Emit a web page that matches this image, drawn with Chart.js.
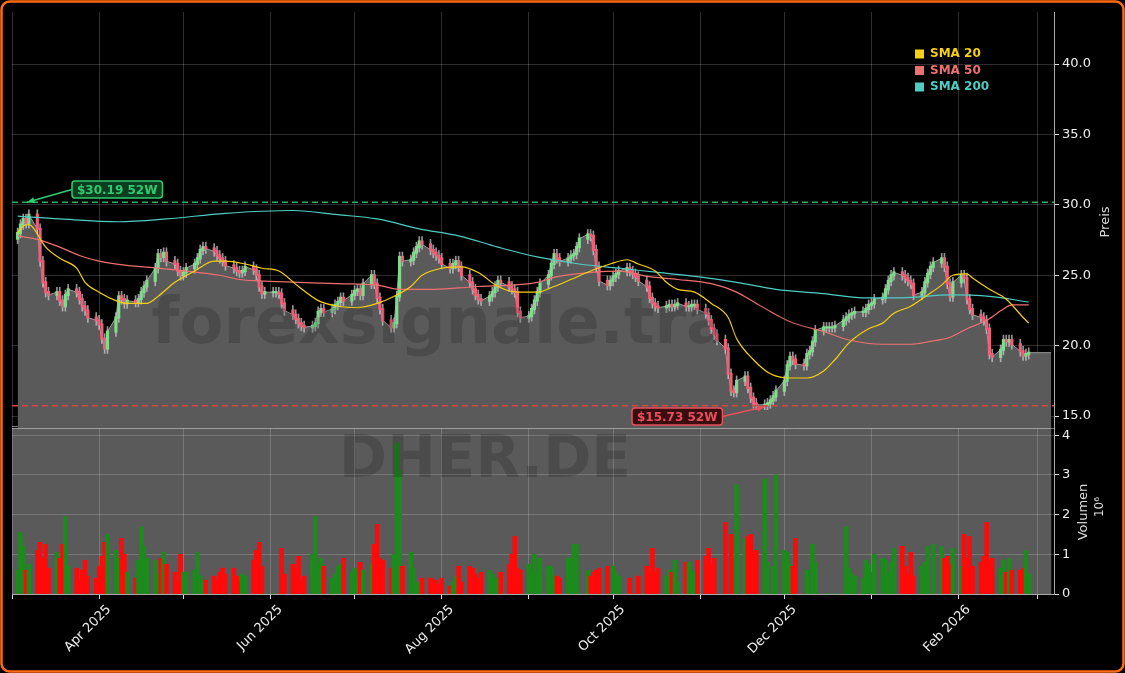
<!DOCTYPE html>
<html><head><meta charset="utf-8">
<script src="https://cdn.jsdelivr.net/npm/chart.js@4/dist/chart.umd.min.js"></script>
<style>html,body{margin:0;padding:0;background:#000;}canvas{display:block;}</style>
</head><body>
<canvas id="c" width="1125" height="673"></canvas>
<script>
// ---------- DATA ----------
const startDate = '2025-03-03';
const closes = [
28.0,28.6,29.0,28.7,29.3,28.3,26.0,24.5,23.8,23.6,
23.8,23.2,22.8,23.6,24.0,23.8,23.3,22.8,22.5,22.0,
21.8,21.5,20.5,19.8,21.0,22.0,23.5,23.3,23.0,23.2,
23.1,23.3,23.8,24.2,24.6,25.5,26.5,26.3,26.6,26.0,
25.8,25.3,25.0,25.2,25.5,25.8,26.2,26.8,27.0,26.9,
26.7,26.4,26.2,26.0,25.7,25.5,25.3,25.2,25.3,25.6,
25.4,25.0,24.2,23.7,23.8,23.8,23.8,23.7,23.0,22.5,
22.2,21.9,21.6,21.4,21.3,21.4,21.6,22.4,22.6,22.4,
22.6,22.9,23.1,23.4,23.2,23.6,23.9,24.0,23.6,24.4,
25.0,24.4,23.4,22.6,21.8,21.3,21.6,23.5,26.3,26.0,
26.1,26.6,27.0,27.4,27.2,26.8,26.6,26.4,26.2,25.8,
25.5,25.8,26.0,25.6,25.0,24.5,24.0,23.6,23.3,23.2,
23.5,23.8,24.2,24.6,24.5,24.2,24.0,23.8,22.4,22.0,
22.1,22.6,23.2,23.8,24.4,25.0,25.8,26.5,26.2,26.0,
26.2,26.4,26.5,27.0,27.6,27.9,27.8,26.8,25.6,24.6,
24.3,24.6,24.9,25.1,25.3,25.5,25.3,25.1,24.9,24.6,
24.2,23.4,23.0,22.8,22.7,22.8,22.9,22.8,22.9,23.0,
22.8,22.8,22.9,22.9,22.6,22.3,21.8,21.2,20.8,20.4,
19.8,18.0,16.8,16.7,17.5,17.8,17.0,16.3,15.9,15.8,
15.8,15.9,16.1,16.4,16.8,17.5,18.6,19.2,19.0,18.7,
18.6,19.4,19.6,20.3,21.1,21.3,21.3,21.3,21.3,21.4,
21.8,22.0,22.2,22.3,22.4,22.4,22.6,22.9,23.0,23.3,
23.4,24.0,24.6,25.0,25.2,25.0,24.8,24.6,24.4,23.6,
23.8,24.5,25.1,25.6,25.9,26.2,25.6,24.4,23.5,24.5,
25.0,24.8,23.3,22.6,22.2,22.0,21.8,21.2,19.4,19.2,
19.7,20.4,20.3,20.4,20.1,19.6,19.3,19.4,19.5];
const firstOpen = 27.6;
const volumes = [ // millions
0.6,1.55,1.2,0.6,0.75,1.1,1.3,0.9,1.25,0.65,
1.05,0.9,1.25,1.95,0.7,0.65,0.35,0.6,0.85,0.45,
0.4,0.7,0.95,1.3,1.5,1.1,0.9,1.4,1.0,0.55,
0.4,0.85,1.7,1.2,0.9,0.85,0.5,0.9,1.05,0.75,
0.55,0.3,1.0,0.55,0.55,0.6,1.05,0.45,0.35,0.35,
0.45,0.35,0.55,0.65,0.5,0.65,0.45,0.3,0.5,0.45,
0.85,1.1,1.3,0.7,0,0,0,0,1.15,0.5,
0.75,0.65,0.95,0.35,0.45,1.0,1.95,0.75,0.9,0.7,
0.4,0.5,0.7,0.75,0.9,0.55,0.65,0.4,0.8,0.6,
0.75,1.25,1.75,0.9,0.85,0.65,1.0,3.8,3.1,0.7,
1.05,0.65,0.3,0.3,0.4,0.4,0.35,0.35,0.25,0.4,
0.2,0.3,0.45,0.7,0.3,0.7,0.65,0.5,0.4,0.55,
0.6,0.5,0.4,0.4,0.55,0.75,1.0,1.45,0.65,0.6,
0.75,0.55,1.0,0.55,0.9,0.7,0.7,0.45,
0.45,0.4,0.9,0.9,1.25,1.25,0,0.6,0.45,0.55,0.6,0.65,0.7,0,0.7,0.55,0.45,0,0.4,0,0,
0.45,0.7,0.55,1.15,0.55,0.65,0.45,0.6,0.55,0.85,0.3,0.8,0.8,0.6,0.55,0.85,0.95,1.15,0.75,0.9,
0,1.8,0,1.5,0,2.75,1.4,1.45,1.5,1.0,1.1,2.9,0.8,0,0.7,3.0,1.1,1.05,0.75,0.7,1.4,0,0.6,0,1.25,0.8,
0,0,0,0,0,0,
1.7,0.65,0.5,0.45,0.4,0.85,0.75,0.55,1.0,0.9,0.85,0.55,0.8,1.15,1.2,0.7,0.5,1.05,
0.45,0.7,0.8,1.2,0,1.25,1.2,0.9,0.95,0.75,1.15,0.7,1.5,0.9,1.45,0.7,0.8,0.95,1.8,0.85,0.9,0.65,
0.85,0.55,0.9,0.6,0.6,0.65,1.1,0.5];
// SMA readings: [trading-day index, value]
const sma20 = [[0,28.0],[2,28.5],[4,28.6],[8,27.0],[11,26.2],[15,25.5],[18,24.5],[21,23.8],[25,23.2],[29,23.0],[34,23.0],[36,23.5],[40,24.5],[45,25.3],[50,26.0],[54,26.0],[59,25.8],[63,25.5],[67,25.3],[72,24.2],[77,23.2],[82,22.8],[87,22.7],[92,23.0],[96,23.5],[100,24.2],[104,25.0],[109,25.5],[114,25.6],[118,25.2],[123,24.2],[128,23.8],[133,23.8],[137,24.2],[141,24.7],[146,25.3],[151,25.8],[155,26.1],[159,25.8],[163,25.3],[165,24.5],[169,24.0],[173,23.8],[177,23.0],[181,22.0],[184,20.5],[188,19.0],[192,18.0],[197,17.7],[201,17.7],[205,18.2],[209,19.0],[212,20.2],[217,21.2],[220,21.6],[224,22.3],[228,22.8],[232,23.6],[235,24.3],[239,25.0],[242,25.1],[244,24.8],[248,24.0],[252,23.3],[256,22.0],[258,21.6]];
const sma50 = [[0,27.8],[6,27.5],[11,27.0],[16,26.4],[21,26.0],[29,25.7],[36,25.5],[44,25.3],[52,25.0],[57,24.7],[62,24.6],[72,24.5],[82,24.4],[92,24.3],[98,24.0],[105,24.0],[113,24.1],[118,24.2],[126,24.3],[133,24.5],[138,24.9],[146,25.2],[154,25.3],[161,24.9],[169,24.7],[177,24.4],[184,23.8],[189,23.0],[197,21.7],[205,21.0],[212,20.4],[220,20.1],[228,20.1],[233,20.3],[238,20.6],[242,21.2],[247,21.8],[251,22.6],[254,22.9],[258,22.9]];
const sma200 = [[0,29.2],[11,29.0],[26,28.8],[39,29.0],[54,29.4],[70,29.6],[82,29.3],[92,29.0],[103,28.3],[113,27.8],[123,27.0],[133,26.3],[144,25.8],[154,25.5],[164,25.2],[174,24.9],[184,24.5],[194,24.0],[205,23.7],[215,23.4],[225,23.4],[238,23.6],[248,23.5],[258,23.1]];
const high52 = 30.19, low52 = 15.73;
const high52Idx = 3, low52Idx = 190;
const areaEndDate = '2026-03-06';
const priceTicks = [15,20,25,30,35,40];
const volTicks = [0,1,2,3,4];
const monthLabels = ['Mar 2025','Apr 2025','May 2025','Jun 2025','Jul 2025','Aug 2025','Sep 2025','Oct 2025','Nov 2025','Dec 2025','Jan 2026','Feb 2026','Mar 2026'];
const shownLabels = ['Apr 2025','Jun 2025','Aug 2025','Oct 2025','Dec 2025','Feb 2026'];

// ---------- derived ----------
const base = Date.UTC(2025,2,1);
const dayOf = s => (Date.parse(s+'T00:00:00Z')-base)/864e5;
const days = [];
{ let d = new Date(startDate+'T00:00:00Z');
  while (days.length < closes.length) { const w=d.getUTCDay(); if(w!==0&&w!==6) days.push((d-base)/864e5); d=new Date(d.getTime()+864e5);} }
const opens = closes.map((c,i)=> i===0?firstOpen:closes[i-1]);
const up = closes.map((c,i)=> c>=opens[i]);
const monthDays = monthLabels.map((l,i)=> (Date.UTC(2025,2+i,1)-base)/864e5);

const bodies = closes.map((c,i)=>({x:days[i], y:[Math.min(opens[i],c)-0.05, Math.max(opens[i],c)+0.05]}));
const wicks = closes.map((c,i)=>({x:days[i], y:[Math.min(opens[i],c)-0.35, Math.max(opens[i],c)+0.35]}));
const areaPts = closes.map((c,i)=>({x:days[i], y:c})).concat([{x:dayOf(areaEndDate), y:closes[closes.length-1]}]);
const smaPts = a => a.map(([i,v])=>({x:days[i], y:v}));

const bgPlugin = {
  id:'bg',
  beforeDraw(ch){
    const {ctx} = ch; ctx.save(); ctx.fillStyle='#000'; ctx.fillRect(0,0,ch.width,ch.height);
    const x=ch.scales.x, yv=ch.scales.yv;
    const x1=x.getPixelForValue(dayOf(areaEndDate));
    ctx.fillStyle='rgb(90,90,90)'; ctx.fillRect(ch.chartArea.left, yv.top, x1-ch.chartArea.left, yv.bottom-yv.top);
    ctx.restore();
  },
  beforeDatasetsDraw(ch){
    const {ctx}=ch; const y=ch.scales.y, x=ch.scales.x;
    ctx.save();
    ctx.strokeStyle='rgba(190,190,190,0.7)'; ctx.lineWidth=1;
    ctx.beginPath(); ctx.moveTo(ch.chartArea.left,y.bottom-1.5); ctx.lineTo(x.getPixelForValue(dayOf(areaEndDate)),y.bottom-1.5); ctx.stroke();
    ctx.restore();
  },
  afterDatasetsDraw(ch){
    const {ctx}=ch; const x=ch.scales.x, y=ch.scales.y, yv=ch.scales.yv; const ca=ch.chartArea;
    ctx.save();
    ctx.setLineDash([6,4]); ctx.lineWidth=1.5;
    ctx.strokeStyle='#27ae60'; ctx.beginPath(); ctx.moveTo(ca.left,y.getPixelForValue(high52)); ctx.lineTo(ca.right,y.getPixelForValue(high52)); ctx.stroke();
    ctx.strokeStyle='#d9453f'; ctx.beginPath(); ctx.moveTo(ca.left,y.getPixelForValue(low52)); ctx.lineTo(ca.right,y.getPixelForValue(low52)); ctx.stroke();
    ctx.setLineDash([]);
    ctx.fillStyle='rgba(0,0,0,0.16)'; ctx.textAlign='center'; ctx.textBaseline='middle';
    ctx.font='bold 64px "DejaVu Sans"'; ctx.fillText('forexsignale.trade',485,326);
    ctx.font='bold 58px "DejaVu Sans"'; ctx.fillText('DHER.DE',485,462);
    const label=(txt,bx,by,col,bg,tx,ty)=>{
      ctx.font='bold 12px "DejaVu Sans"'; const w=ctx.measureText(txt).width+10, h=17;
      const ax = tx>bx? bx+w : bx, ay=by+h/2;
      ctx.strokeStyle=col; ctx.lineWidth=1.5; ctx.beginPath(); ctx.moveTo(ax,ay); ctx.lineTo(tx,ty); ctx.stroke();
      const ang=Math.atan2(ty-ay,tx-ax);
      ctx.fillStyle=col; ctx.beginPath(); ctx.moveTo(tx,ty); ctx.lineTo(tx-8*Math.cos(ang-0.4),ty-8*Math.sin(ang-0.4)); ctx.lineTo(tx-8*Math.cos(ang+0.4),ty-8*Math.sin(ang+0.4)); ctx.closePath(); ctx.fill();
      ctx.fillStyle=bg; ctx.beginPath(); ctx.roundRect(bx,by,w,h,3); ctx.fill(); ctx.stroke();
      ctx.fillStyle=col; ctx.textAlign='left'; ctx.textBaseline='middle'; ctx.fillText(txt,bx+5,by+h/2+1);
    };
    label('$30.19 52W',72,181,'#2ecc71','#0d3d1f',x.getPixelForValue(days[high52Idx])+1,y.getPixelForValue(high52));
    label('$15.73 52W',632,408,'#e8505b','#3a0d10',x.getPixelForValue(days[low52Idx]),y.getPixelForValue(low52)+1);
    const items=[['SMA 20','#f5d10f'],['SMA 50','#f07070'],['SMA 200','#4ecdc4']];
    items.forEach(([t,c],i)=>{ const yy=54+i*16.5; ctx.fillStyle=c; ctx.fillRect(915,yy-4.5,9,9);
      ctx.font='bold 12px "DejaVu Sans"'; ctx.textAlign='left'; ctx.textBaseline='middle'; ctx.fillText(t,930,yy); });
    ctx.fillStyle='#ddd'; ctx.font='13px "DejaVu Sans"'; ctx.textAlign='center';
    const rot=(t,px,py)=>{ctx.save(); ctx.translate(px,py); ctx.rotate(-Math.PI/2); ctx.fillText(t,0,0); ctx.restore();};
    rot('Preis',1106,222); rot('Volumen',1084,512); ctx.font='12px "DejaVu Sans"'; rot('10⁶',1100,507);
    ctx.strokeStyle='rgba(200,200,200,0.6)'; ctx.lineWidth=1; ctx.beginPath(); ctx.moveTo(ca.left,yv.top+0.5); ctx.lineTo(ca.right,yv.top+0.5); ctx.stroke();
    ctx.strokeStyle='#ff6a13'; ctx.lineWidth=2.5; ctx.beginPath(); ctx.roundRect(1.5,1.5,ch.width-3,ch.height-3,8); ctx.stroke();
    ctx.restore();
  }
};

const gridCol='rgba(255,255,255,0.18)';
new Chart(document.getElementById('c'),{
  type:'bar',
  data:{datasets:[
    {type:'line',label:'SMA 20',data:smaPts(sma20),yAxisID:'y',borderColor:'#f5d10f',borderWidth:1.2,pointRadius:0,cubicInterpolationMode:'monotone',order:1},
    {type:'line',label:'SMA 50',data:smaPts(sma50),yAxisID:'y',borderColor:'#f07070',borderWidth:1.2,pointRadius:0,cubicInterpolationMode:'monotone',order:1},
    {type:'line',label:'SMA 200',data:smaPts(sma200),yAxisID:'y',borderColor:'#4ecdc4',borderWidth:1.2,pointRadius:0,cubicInterpolationMode:'monotone',order:1},
    {label:'bodies',data:bodies,yAxisID:'y',backgroundColor:up.map(u=>u?'#7fdc8c':'#ef5f78'),barThickness:2.5,grouped:false,order:2},
    {label:'wicks',data:wicks,yAxisID:'y',backgroundColor:'rgba(200,200,200,0.75)',barThickness:1,grouped:false,order:3},
    {type:'line',label:'area',data:areaPts,yAxisID:'y',borderColor:'rgba(170,170,170,0.9)',borderWidth:1,backgroundColor:'rgb(90,90,90)',fill:'start',pointRadius:0,tension:0,order:5},
    {label:'vol',data:volumes.map((v,i)=>({x:days[i],y:v})),yAxisID:'yv',backgroundColor:up.map(u=>u?'#1d8a1d':'#ff0a0a'),barThickness:3.9,grouped:false,order:4}
  ]},
  options:{
    responsive:false,animation:false,devicePixelRatio:1,
    layout:{padding:{left:12,top:12,right:0,bottom:0}},
    plugins:{legend:{display:false},tooltip:{enabled:false}},
    scales:{
      x:{type:'linear',min:0,max:371,offset:false,
        grid:{color:gridCol,offset:false,drawTicks:true,tickLength:5,tickColor:'#ddd'},
        border:{color:'#aaa'},
        afterBuildTicks:s=>{s.ticks=monthDays.filter(v=>v<=371).map(v=>({value:v}));},
        ticks:{autoSkip:false,maxRotation:45,minRotation:45,labelOffset:10,color:'#eee',font:{family:'DejaVu Sans',size:13},
          callback:(v,i)=>{const l=monthLabels[i];return shownLabels.includes(l)?l:'';}},
        afterFit:s=>{s.height=79;}
      },
      y:{position:'right',stack:'p',stackWeight:416,min:14.15,max:43.7,
        grid:{color:gridCol,tickLength:5,tickColor:'#ddd'},border:{color:'#aaa'},
        afterBuildTicks:s=>{s.ticks=priceTicks.map(v=>({value:v}));},
        ticks:{color:'#eee',font:{family:'DejaVu Sans',size:13},callback:v=>v.toFixed(1)},
        afterFit:s=>{s.width=71;}
      },
      yv:{position:'right',stack:'p',stackWeight:166,min:0,max:4.18,
        grid:{color:gridCol,tickLength:5,tickColor:'#ddd'},border:{color:'#aaa'},
        afterBuildTicks:s=>{s.ticks=volTicks.map(v=>({value:v}));},
        ticks:{color:'#eee',font:{family:'DejaVu Sans',size:13}},
        afterFit:s=>{s.width=71;}
      }
    }
  },
  plugins:[bgPlugin]
});
</script>
</body></html>
